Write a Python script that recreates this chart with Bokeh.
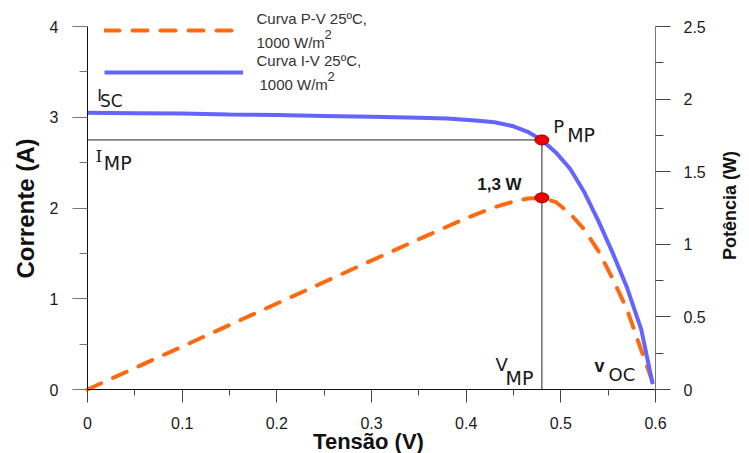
import math
from bokeh.plotting import figure
from bokeh.models import (LinearAxis, Range1d, FixedTicker, NumeralTickFormatter,
                          Label, Legend, LegendItem)
from bokeh.embed import file_html
from bokeh.resources import INLINE

# ---- data ----
v_iv = [0, 0.05, 0.1, 0.15, 0.2, 0.25, 0.3, 0.35, 0.38, 0.41, 0.43, 0.45,
        0.465, 0.48, 0.495, 0.51, 0.525, 0.54, 0.555, 0.57, 0.585, 0.597]
i_iv = [3.05, 3.045, 3.04, 3.03, 3.025, 3.015, 3.005, 2.995, 2.985, 2.965, 2.945, 2.90,
        2.84, 2.75, 2.61, 2.43, 2.17, 1.85, 1.50, 1.12, 0.66, 0.06]

v_pv = [0, 0.05, 0.1, 0.15, 0.2, 0.25, 0.3, 0.35, 0.4, 0.43, 0.45, 0.465, 0.48,
        0.495, 0.51, 0.525, 0.54, 0.555, 0.57, 0.585, 0.597]
p_pv = [0, 0.148, 0.296, 0.444, 0.592, 0.74, 0.888, 1.035, 1.18, 1.255, 1.295, 1.315, 1.32,
        1.29, 1.21, 1.10, 0.95, 0.76, 0.55, 0.27, 0.05]

VMP, IMP, PMP, ISC, VOC = 0.48, 2.75, 1.32, 3.05, 0.6

x_ticks = [0, 0.1, 0.2, 0.3, 0.4, 0.5, 0.6]
x_minor = [0.05, 0.15, 0.25, 0.35, 0.45, 0.55]
i_ticks = [0, 1, 2, 3, 4]
i_minor = [0.5, 1.5, 2.5, 3.5]
p_ticks = [0, 0.5, 1, 1.5, 2, 2.5]
p_minor = [0.25, 0.75, 1.25, 1.75, 2.25]
V_MAX, I_MAX, P_MAX = 0.6, 4, 2.5

legend_lines = [["Curva P-V  25ºC,", "1000 W/m", "2"],
                ["Curva I-V 25ºC,", "1000 W/m", "2"]]

ORANGE = "#ff6a10"
BLUE = "#6464ff"
FONT = "Liberation Sans"

# ---- layout (pixels): the plotting frame covers the whole canvas, the axes
# are pinned at the data edges so that texts outside them are not clipped ----
W, H = 749, 453
PX_L, PX_R, PX_T, PX_B = 87, 655, 26, 389
kx = (PX_R - PX_L) / V_MAX
ki = (PX_B - PX_T) / I_MAX
kp = (PX_B - PX_T) / P_MAX

p = figure(width=W, height=H,
           x_range=Range1d(-PX_L / kx, V_MAX + (W - PX_R) / kx),
           y_range=Range1d(-(H - PX_B) / ki, I_MAX + PX_T / ki),
           output_backend="svg", toolbar_location=None,
           min_border_left=0, min_border_right=0, min_border_top=0, min_border_bottom=0)
p.extra_y_ranges = {"power": Range1d(-(H - PX_B) / kp, P_MAX + PX_T / kp)}
p.outline_line_color = None
p.xgrid.visible = False
p.ygrid.visible = False
p.background_fill_color = "white"
p.border_fill_color = "white"

def style_axis(ax, ticks, minor, tick_out, minor_out, standoff, line_color, tick_color):
    ax.ticker = FixedTicker(ticks=ticks, minor_ticks=minor)
    ax.formatter = NumeralTickFormatter(format="0.[0]")
    ax.major_tick_in = 0
    ax.minor_tick_in = 0
    ax.major_tick_out = tick_out
    ax.minor_tick_out = minor_out
    ax.major_label_standoff = standoff
    ax.axis_line_color = line_color
    ax.major_tick_line_color = tick_color
    ax.minor_tick_line_color = tick_color
    ax.major_label_text_font = FONT
    ax.major_label_text_font_size = "16px"
    ax.major_label_text_color = "#1a1a1a"

xax = p.xaxis[0]
style_axis(xax, x_ticks, x_minor, 13, 6, 14, "#111111", "#444444")
xax.bounds = (0, V_MAX)
xax.fixed_location = 0

yax = p.yaxis[0]
style_axis(yax, i_ticks, i_minor, 15, 8, 14, "#111111", "#777777")
yax.bounds = (0, I_MAX)
yax.fixed_location = 0

right = LinearAxis(y_range_name="power")
style_axis(right, p_ticks, p_minor, 15, 8, 13, "#777777", "#444444")
right.bounds = (0, P_MAX)
right.fixed_location = V_MAX
p.add_layout(right, "right")

# reference lines at the maximum power point
p.line(x=[0, VMP], y=[IMP, IMP], line_color="#222222", line_width=1)
p.line(x=[VMP, VMP], y=[IMP, 0], line_color="#222222", line_width=1)

r_pv = p.line(x=v_pv, y=p_pv, y_range_name="power", line_color=ORANGE, line_width=4,
              line_dash="15 13", line_cap="round")
r_iv = p.line(x=v_iv, y=i_iv, line_color=BLUE, line_width=4)

p.ellipse(x=[VMP], y=[IMP], width=14, height=10, width_units="screen", height_units="screen",
          fill_color="#ee0000", line_color="#990000", line_width=1)
p.ellipse(x=[VMP], y=[PMP], y_range_name="power", width=14, height=10, width_units="screen",
          height_units="screen", fill_color="#ee0000", line_color="#990000", line_width=1)

# legend: sample lines from a Bokeh Legend, the two-line texts as labels
legend = Legend(items=[LegendItem(label=" ", renderers=[r_pv]),
                       LegendItem(label=" ", renderers=[r_iv])],
                location=(104, H - 82), glyph_width=139, glyph_height=20,
                label_height=20, label_width=1, label_standoff=0, spacing=22,
                padding=0, margin=0, border_line_color=None, background_fill_alpha=0)
p.add_layout(legend)

def screen_label(x, y, text, size, color="#333333", style="normal", angle=0,
                 align="left"):
    # x, y measured from the canvas top-left
    p.add_layout(Label(x=x, y=H - y, x_units="screen", y_units="screen", angle=angle,
                       text=text, text_font=FONT, text_font_size=size, text_color=color,
                       text_font_style=style, text_align=align, text_baseline="middle"))

for k, (l1, l2, sup) in enumerate(legend_lines):
    y0 = 18 + 42 * k
    screen_label(256, y0, l1, "15px")
    screen_label(256 + 3 * k, y0 + 24, l2, "15px")
    screen_label(324 + 3 * k, y0 + 16, sup, "13px")

# axis titles
screen_label(25, 208, "Corrente (A)", "24px", color="#111111", style="bold",
             angle=math.pi / 2, align="center")
screen_label(368, 441, "Tensão (V)", "22px", color="#111111", style="bold", align="center")
screen_label(729, 205, "Potência (W)", "18px", color="#111111", style="bold",
             angle=math.pi / 2, align="center")

def lab(x, y, text, dx, dy, size, font=FONT, style="normal", y_range="default", color="#1a1a1a"):
    kw = dict(x=x, y=y, text=text, x_offset=dx, y_offset=dy + 6, text_font=font,
              text_font_size=size, text_font_style=style, text_color=color,
              text_align="left", text_baseline="alphabetic")
    if y_range != "default":
        kw["y_range_name"] = y_range
    p.add_layout(Label(**kw))

# I_SC
lab(0, ISC, "I", 9.7, 11.5, "17px")
lab(0, ISC, "SC", 12.5, 6.2, "17px", font="DejaVu Sans")
# I_MP
lab(0, IMP, "I", 8, -22.3, "17px", font="DejaVu Serif")
lab(0, IMP, "MP", 16.3, -29, "19px", font="DejaVu Sans")
# P_MP
lab(VMP, IMP, "P", 11.3, 7.7, "18px", font="DejaVu Sans")
lab(VMP, IMP, "MP", 25.3, -0.6, "19px", font="DejaVu Sans")
# 1,3 W
lab(VMP, PMP, "1,3 W", -64.7, 7.3, "17px", style="bold", y_range="power")
# V_MP
lab(VMP, 0, "V", -46.4, 19, "18px", font="DejaVu Sans")
lab(VMP, 0, "MP", -36.4, 5.7, "19px", font="DejaVu Sans")
# v_OC
lab(VOC, 0, "v", -61, 17.3, "18px", style="bold")
lab(VOC, 0, "OC", -47, 9, "18px", font="DejaVu Sans")

open("out.html", "w").write(file_html(p, INLINE))
